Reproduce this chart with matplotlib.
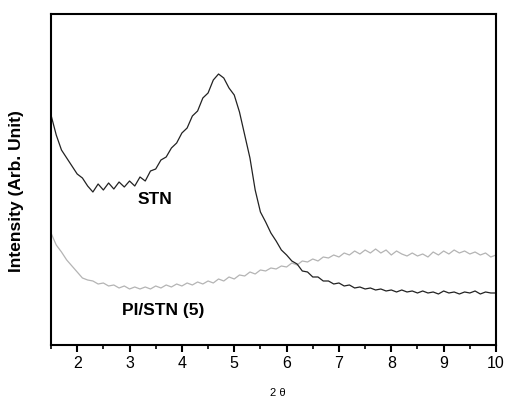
import numpy as np
import matplotlib.pyplot as plt

plt.rcParams['font.family'] = ['Liberation Sans', 'DejaVu Sans']

# 2-theta grid (step 0.1) and intensities (arb. units)
two_theta = np.round(np.arange(1.5, 10.05, 0.1), 1)

stn = [230, 210, 195, 187, 179, 171, 167, 159, 153, 161,
       155, 162, 156, 163, 158, 164, 159, 168, 164, 174,
       176, 185, 188, 197, 202, 212, 217, 229, 234, 247,
       252, 265, 271, 267, 257, 250, 233, 210, 187, 155,
       133, 123, 112, 104, 95, 90, 84, 81, 74, 73,
       68, 68, 64, 64, 61, 62, 59, 60, 57, 58,
       56, 57, 55, 56, 54, 55, 53, 55, 53, 54,
       52, 54, 52, 53, 51, 54, 52, 53, 51, 53,
       52, 54, 51, 53, 52, 52]

pi_stn = [112, 100, 93, 85, 79, 73, 67, 65, 64, 61,
          62, 59, 60, 57, 59, 56, 58, 56, 58, 56,
          59, 57, 60, 58, 61, 59, 62, 60, 63, 61,
          64, 62, 66, 64, 68, 66, 70, 69, 73, 71,
          75, 74, 77, 76, 79, 78, 82, 80, 84, 83,
          86, 84, 88, 87, 90, 88, 92, 90, 94, 91,
          95, 92, 96, 92, 95, 90, 94, 91, 89, 92,
          89, 91, 88, 93, 90, 94, 91, 95, 92, 94,
          91, 93, 90, 92, 88, 90]

fig = plt.figure(figsize=(5.08, 3.98), dpi=100)
ax = fig.add_axes([0.1004, 0.1332, 0.876, 0.8316])

ax.plot(two_theta, pi_stn, color='#b4b4b4', lw=0.9)
ax.plot(two_theta, stn, color='#222222', lw=0.9)

ax.text(3.48, 145, 'STN', fontsize=12.5, fontweight='bold', ha='center', va='center')
ax.text(3.64, 34, 'PI/STN (5)', fontsize=12.5, fontweight='bold', ha='center', va='center')

ax.set_xlim(1.5, 10)
ax.set_ylim(0, 331)
ax.set_xticks(range(2, 11))
ax.set_xticks(np.arange(1.5, 10.01, 0.5), minor=True)
ax.set_yticks([])
ax.tick_params(axis='x', which='major', direction='out', length=5, width=1.5, labelsize=11.5, pad=3)
ax.tick_params(axis='x', which='minor', direction='out', length=3, width=1.2)
for s in ax.spines.values():
    s.set_linewidth(1.5)

fig.text(17 / 508, 207 / 398, 'Intensity (Arb. Unit)', fontsize=12.5, fontweight='bold',
         rotation=90, ha='center', va='center')
fig.text(278 / 508, 5 / 398, '2 θ', fontsize=8, ha='center', va='center')

fig.savefig('out.png', dpi=100)
